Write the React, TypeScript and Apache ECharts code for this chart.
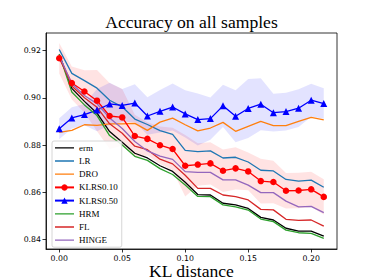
import React, { useEffect, useRef } from "react";
import * as echarts from "echarts";

const xs = [0, 0.01, 0.02, 0.03, 0.04, 0.05, 0.06, 0.07, 0.08, 0.09, 0.1, 0.11, 0.12, 0.13, 0.14, 0.15, 0.16, 0.17, 0.18, 0.19, 0.2, 0.21];
const xTicks = [0, 0.05, 0.1, 0.15, 0.2];
const yTicks = [0.84, 0.86, 0.88, 0.9, 0.92];

const erm = [0.9185, 0.904, 0.8985, 0.8935, 0.8857, 0.8812, 0.8765, 0.8745, 0.8712, 0.8688, 0.8642, 0.859, 0.8588, 0.8553, 0.8546, 0.8531, 0.8493, 0.8482, 0.8447, 0.8435, 0.8435, 0.8414];
const lr = [0.9205, 0.9104, 0.9073, 0.9041, 0.899, 0.8962, 0.891, 0.8887, 0.8861, 0.8845, 0.8777, 0.8772, 0.8775, 0.8745, 0.8748, 0.8728, 0.8693, 0.869, 0.8654, 0.8647, 0.8651, 0.8621];
const dro = [0.8854, 0.8862, 0.8886, 0.8883, 0.889, 0.889, 0.8892, 0.8862, 0.8897, 0.8914, 0.8886, 0.886, 0.8872, 0.8896, 0.8858, 0.8879, 0.89, 0.8882, 0.8882, 0.89, 0.8917, 0.8907];
const klrs010 = [0.9168, 0.9063, 0.9027, 0.8988, 0.8923, 0.8917, 0.8838, 0.8826, 0.8799, 0.8783, 0.8712, 0.8717, 0.8722, 0.8691, 0.8701, 0.8688, 0.8647, 0.8643, 0.8606, 0.8607, 0.8612, 0.858];
const klrs010Std = [0.0065, 0.007, 0.009, 0.013, 0.014, 0.012, 0.009, 0.007, 0.008, 0.009, 0.013, 0.009, 0.009, 0.009, 0.009, 0.008, 0.0095, 0.009, 0.0075, 0.0075, 0.0075, 0.0075];
const klrs050 = [0.8869, 0.8915, 0.8929, 0.8948, 0.8974, 0.8968, 0.8978, 0.8923, 0.8943, 0.8961, 0.8932, 0.8908, 0.8912, 0.8966, 0.8922, 0.8955, 0.8973, 0.8937, 0.8942, 0.8956, 0.899, 0.8976];
const klrs050Std = [0.0045, 0.0045, 0.0045, 0.009, 0.009, 0.007, 0.008, 0.008, 0.009, 0.01, 0.01, 0.011, 0.009, 0.009, 0.011, 0.0125, 0.011, 0.008, 0.008, 0.008, 0.007, 0.0065];
const hrm = [0.9185, 0.9025, 0.897, 0.8925, 0.884, 0.88, 0.8752, 0.8735, 0.87, 0.8675, 0.863, 0.8582, 0.8581, 0.8546, 0.8538, 0.8524, 0.8486, 0.8475, 0.8439, 0.8428, 0.8425, 0.8404];
const fl = [0.9175, 0.905, 0.9, 0.896, 0.889, 0.885, 0.8795, 0.878, 0.874, 0.872, 0.8672, 0.8616, 0.8616, 0.8588, 0.8581, 0.8567, 0.8527, 0.8525, 0.8485, 0.848, 0.8482, 0.8456];
const hinge = [0.918, 0.906, 0.901, 0.8975, 0.8915, 0.887, 0.8815, 0.8775, 0.8753, 0.8739, 0.8687, 0.8684, 0.8684, 0.8652, 0.8652, 0.863, 0.8598, 0.8598, 0.8562, 0.8538, 0.854, 0.8513];

const SERIF = "'Liberation Serif', 'DejaVu Serif', serif";
const SANS = "'DejaVu Sans', sans-serif";
const LINE_ICON = "path://M0,0h20v0.01h-20z M0,3.3h20v1.4h-20z M0,7.99h20v0.01h-20z";

function band(name: string, mean: number[], std: number[], fill: string) {
  return {
    type: "custom",
    name,
    silent: true,
    z: 1,
    data: xs.map((x, i) => [x, mean[i] - std[i], mean[i] + std[i]]),
    encode: { x: 0, y: [1, 2] },
    renderItem: (params: any, api: any) => {
      if (params.dataIndex !== 0) return null;
      const upper = xs.map((x, i) => api.coord([x, mean[i] + std[i]]));
      const lower = xs.map((x, i) => api.coord([x, mean[i] - std[i]])).reverse();
      return {
        type: "polygon",
        shape: { points: upper.concat(lower) },
        style: { fill, stroke: "none" },
      };
    },
  };
}

function line(name: string, values: number[], color: string, extra: any = {}) {
  return {
    type: "line",
    name,
    data: xs.map((x, i) => [x, values[i]]),
    symbol: "none",
    lineStyle: { color, width: 1.3 },
    itemStyle: { color },
    z: 3,
    ...extra,
  };
}

export default function App() {
  const ref = useRef<HTMLDivElement>(null);
  useEffect(() => {
    if (!ref.current) return;
    const chart = echarts.init(ref.current, undefined, { renderer: "svg" });
    chart.setOption({
      animation: false,
      backgroundColor: "#fff",
      grid: {
        left: 46, right: 37, top: 33, bottom: 31,
        show: true, borderColor: "#000", borderWidth: 0.8,
        containLabel: false, outerBoundsMode: "none",
      },
      graphic: [
        {
          type: "text",
          x: 191.5,
          y: 22,
          style: { text: "Accuracy on all samples", fontFamily: SERIF, fontSize: 17.6, fill: "#000", align: "center", verticalAlign: "middle" },
        },
        {
          type: "text",
          x: 191.5,
          y: 271.2,
          style: { text: "KL distance", fontFamily: SERIF, fontSize: 17.6, lineHeight: 16, fill: "#000", align: "center", verticalAlign: "middle" },
        },
      ],
      xAxis: {
        type: "value",
        min: -0.0105,
        max: 0.2205,
        axisLine: { show: true, onZero: false, lineStyle: { color: "#000", width: 0.8 } },
        axisTick: { show: true, length: 3.5, customValues: xTicks, lineStyle: { color: "#000", width: 0.8 } },
        axisLabel: { customValues: xTicks, formatter: (v: number) => v.toFixed(2), fontFamily: SANS, fontSize: 7.8, lineHeight: 8, color: "#000", margin: 5 },
        splitLine: { show: false },
      },
      yAxis: {
        type: "value",
        min: 0.8359,
        max: 0.9275,
        axisLine: { show: true, onZero: false, lineStyle: { color: "#000", width: 0.8 } },
        axisTick: { show: true, length: 3.5, customValues: yTicks, lineStyle: { color: "#000", width: 0.8 } },
        axisLabel: { customValues: yTicks, formatter: (v: number) => v.toFixed(2), fontFamily: SANS, fontSize: 7.8, color: "#000", margin: 5 },
        splitLine: { show: false },
      },
      legend: {
        orient: "vertical",
        left: 52,
        top: 141,
        data: [
          { name: "erm", icon: LINE_ICON },
          { name: "LR", icon: LINE_ICON },
          { name: "DRO", icon: LINE_ICON },
          { name: "KLRS0.10" },
          { name: "KLRS0.50" },
          { name: "HRM", icon: LINE_ICON },
          { name: "FL", icon: LINE_ICON },
          { name: "HINGE", icon: LINE_ICON },
        ],
        itemWidth: 19,
        itemHeight: 8,
        itemGap: 4.2,
        padding: [2.3, 4, 2.5, 2],
        backgroundColor: "rgba(255,255,255,0.85)",
        borderColor: "#cccccc",
        borderWidth: 0.8,
        borderRadius: 2,
        textStyle: { fontFamily: SERIF, fontSize: 9, color: "#000", lineHeight: 8 },
      },
      series: [
        band("band010", klrs010, klrs010Std, "rgba(255,0,0,0.11)"),
        band("band050", klrs050, klrs050Std, "rgba(0,0,255,0.11)"),
        line("erm", erm, "#000000"),
        line("LR", lr, "#1f77b4"),
        line("DRO", dro, "#ff7f0e"),
        line("KLRS0.10", klrs010, "#ff0000", { symbol: "circle", symbolSize: 6.5 }),
        line("KLRS0.50", klrs050, "#0000ff", { symbol: "triangle", symbolSize: 7 }),
        line("HRM", hrm, "#2ca02c"),
        line("FL", fl, "#d62728"),
        line("HINGE", hinge, "#9467bd"),
      ],
    });
    return () => chart.dispose();
  }, []);
  return <div ref={ref} style={{ position: "fixed", left: 0, top: 0, width: 374, height: 280 }} />;
}
